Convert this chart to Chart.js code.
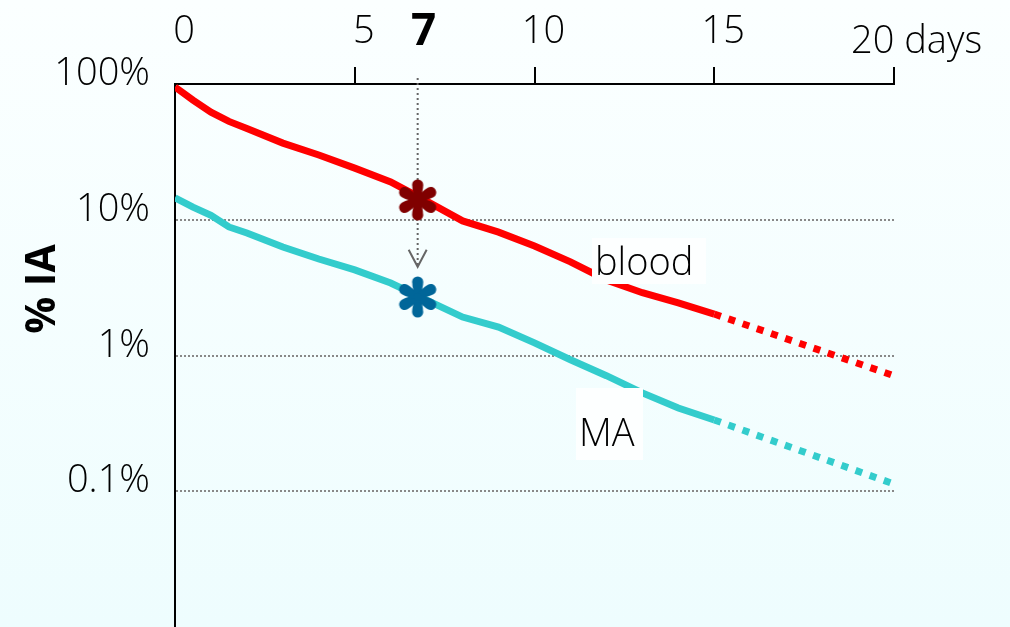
<!DOCTYPE html>
<html>
<head>
<meta charset="utf-8">
<script src="https://cdn.jsdelivr.net/npm/chart.js@4"></script>
<style>
  html, body { margin: 0; padding: 0; background: #f4feff; }
  #G1 { display: block; }
</style>
</head>
<body>
<canvas id="G1" width="1010" height="627"></canvas>
<script>
// days after injection, % injected activity
const days  = [0, 0.5, 1, 1.5, 2, 3, 4, 5, 6, 7, 8, 9, 10, 11, 12, 13, 14, 15, 20];
const blood = [95, 76, 62, 53, 47, 36.7, 30, 24, 19, 13.7, 9.8, 8.1, 6.4, 4.9, 3.6, 2.9, 2.44, 2.02, 0.71];
const ma    = [14.5, 12.4, 10.8, 8.85, 7.98, 6.3, 5.14, 4.27, 3.42, 2.56, 1.92, 1.62, 1.24, 0.93, 0.71, 0.53, 0.41, 0.335, 0.113];
const measured = 15; // after this day the curves are extrapolated

const markDay = 6.75;
const markBlood = 14;
const markMA = 2.7;
const arrowEnd = 4.5;

const xTicks  = [0, 5, 7, 10, 15, 20];
const xLabels = ['0', '5', '7', '10', '15', '20 days'];
const yTicks  = [100, 10, 1, 0.1];
const yLabels = ['100%', '10%', '1%', '0.1%'];

const FONT = '"Open Sans", "DejaVu Sans", sans-serif';

function asterisk(color) {
    const c = document.createElement('canvas');
    c.width = 46; c.height = 46;
    const g = c.getContext('2d');
    g.fillStyle = color;
    g.translate(23, 23);
    for (let i = 0; i < 6; i++) {
        g.save();
        g.rotate(Math.PI / 2 + i * Math.PI / 3);
        g.beginPath();
        g.moveTo(0, -2);
        g.quadraticCurveTo(9, -5.5, 14, -5.4);
        g.arc(15, 0, 5.6, -Math.PI / 2, Math.PI / 2);
        g.quadraticCurveTo(9, 5.5, 0, 2);
        g.closePath();
        g.fill();
        g.restore();
    }
    g.beginPath(); g.arc(0, 0, 4, 0, Math.PI * 2); g.fill();
    return c;
}

const pts = arr => days.map((d, i) => ({x: d, y: arr[i]}));
const dotted = ctx => ctx.p0.parsed.x >= measured ? [7, 8] : undefined;

const deco = {
    id: 'deco',
    beforeDraw(chart) {
        const {ctx, width, height} = chart;
        const g = ctx.createLinearGradient(0, 0, 0, height);
        g.addColorStop(0, '#fbffff');
        g.addColorStop(1, '#eefdfe');
        ctx.save();
        ctx.fillStyle = g;
        ctx.fillRect(0, 0, width, height);
        ctx.restore();
    },
    beforeDatasetsDraw(chart) {
        const {ctx, scales: {x, y}, chartArea} = chart;
        const ax = x.getPixelForValue(markDay);
        const y1 = y.getPixelForValue(arrowEnd);
        ctx.save();
        ctx.strokeStyle = '#666';
        ctx.lineWidth = 2;
        ctx.setLineDash([2, 3]);
        ctx.beginPath();
        ctx.moveTo(ax, chartArea.top - 6);
        ctx.lineTo(ax, y1);
        ctx.stroke();
        ctx.setLineDash([]);
        ctx.beginPath();
        ctx.moveTo(ax - 9, y1 - 17);
        ctx.lineTo(ax, y1);
        ctx.lineTo(ax + 9, y1 - 17);
        ctx.stroke();
        ctx.restore();
    },
    afterDatasetsDraw(chart) {
        const {ctx, scales: {x, y}} = chart;
        ctx.save();
        // label boxes sit over the curves
        ctx.fillStyle = '#fdffff';
        ctx.fillRect(592, 238, 114, 46);
        ctx.fillRect(576, 388, 67, 72);

        ctx.fillStyle = '#000';
        ctx.textBaseline = 'alphabetic';
        ctx.font = '300 38px ' + FONT;
        ctx.textAlign = 'left';
        ctx.fillText('blood', 595, 275);
        ctx.fillText('MA', 579, 446);

        // y labels
        ctx.textAlign = 'right';
        yTicks.forEach((v, i) => {
            ctx.fillText(yLabels[i], 150, y.getPixelForValue(v) + 1);
        });

        // x labels (top)
        xTicks.forEach((v, i) => {
            const px = x.getPixelForValue(v);
            if (v === 7) {
                ctx.font = 'bold 44px ' + FONT;
                ctx.textAlign = 'center';
                ctx.fillText(xLabels[i], px - 3, 45);
                ctx.font = '300 38px ' + FONT;
            } else if (i === xTicks.length - 1) {
                ctx.textAlign = 'left';
                ctx.fillText(xLabels[i], px - 43, 53);
            } else {
                ctx.textAlign = 'center';
                ctx.fillText(xLabels[i], px + 9, 43);
            }
        });

        // axis title
        ctx.translate(55, 289);
        ctx.rotate(-Math.PI / 2);
        ctx.textAlign = 'center';
        ctx.font = 'bold 41px ' + FONT;
        ctx.fillText('% IA', 0, 0);
        ctx.restore();
    }
};

new Chart(document.getElementById('G1'), {
    type: 'line',
    data: {
        datasets: [
            {
                label: 'blood *',
                data: [{x: markDay, y: markBlood}],
                showLine: false,
                pointStyle: asterisk('#800000'),
                pointRadius: 12,
                order: 0
            },
            {
                label: 'MA *',
                data: [{x: markDay, y: markMA}],
                showLine: false,
                pointStyle: asterisk('#006699'),
                pointRadius: 12,
                order: 0
            },
            {
                label: 'blood',
                data: pts(blood),
                borderColor: '#ff0000',
                borderWidth: 7,
                pointRadius: 0,
                tension: 0,
                borderCapStyle: 'butt',
                segment: { borderDash: dotted },
                order: 1
            },
            {
                label: 'MA',
                data: pts(ma),
                borderColor: '#33cccc',
                borderWidth: 7,
                pointRadius: 0,
                tension: 0,
                borderCapStyle: 'butt',
                segment: { borderDash: dotted },
                order: 1
            }
        ]
    },
    options: {
        responsive: false,
        animation: false,
        layout: { autoPadding: false, padding: { left: 175, right: 116, top: 67, bottom: 0 } },
        plugins: { legend: { display: false }, tooltip: { enabled: false } },
        scales: {
            x: {
                type: 'linear',
                position: 'top',
                min: 0,
                max: 20,
                afterBuildTicks: s => { s.ticks = xTicks.map(v => ({value: v})); },
                ticks: { display: false },
                grid: {
                    drawOnChartArea: false,
                    drawTicks: true,
                    tickLength: 17,
                    lineWidth: 2,
                    color: c => (c.tick && [5, 10, 15, 20].includes(c.tick.value)) ? '#000' : 'rgba(0,0,0,0)'
                },
                border: { display: true, color: '#000', width: 2 }
            },
            y: {
                type: 'logarithmic',
                min: 0.01,
                max: 100,
                afterBuildTicks: s => { s.ticks = yTicks.map(v => ({value: v})); },
                ticks: { display: false },
                grid: {
                    drawTicks: false,
                    lineWidth: 2,
                    color: c => (c.tick && c.tick.value < 100) ? '#888' : 'rgba(0,0,0,0)'
                },
                border: { display: true, color: '#000', width: 2, dash: [2, 2] }
            }
        }
    },
    plugins: [deco]
});
</script>
</body>
</html>
